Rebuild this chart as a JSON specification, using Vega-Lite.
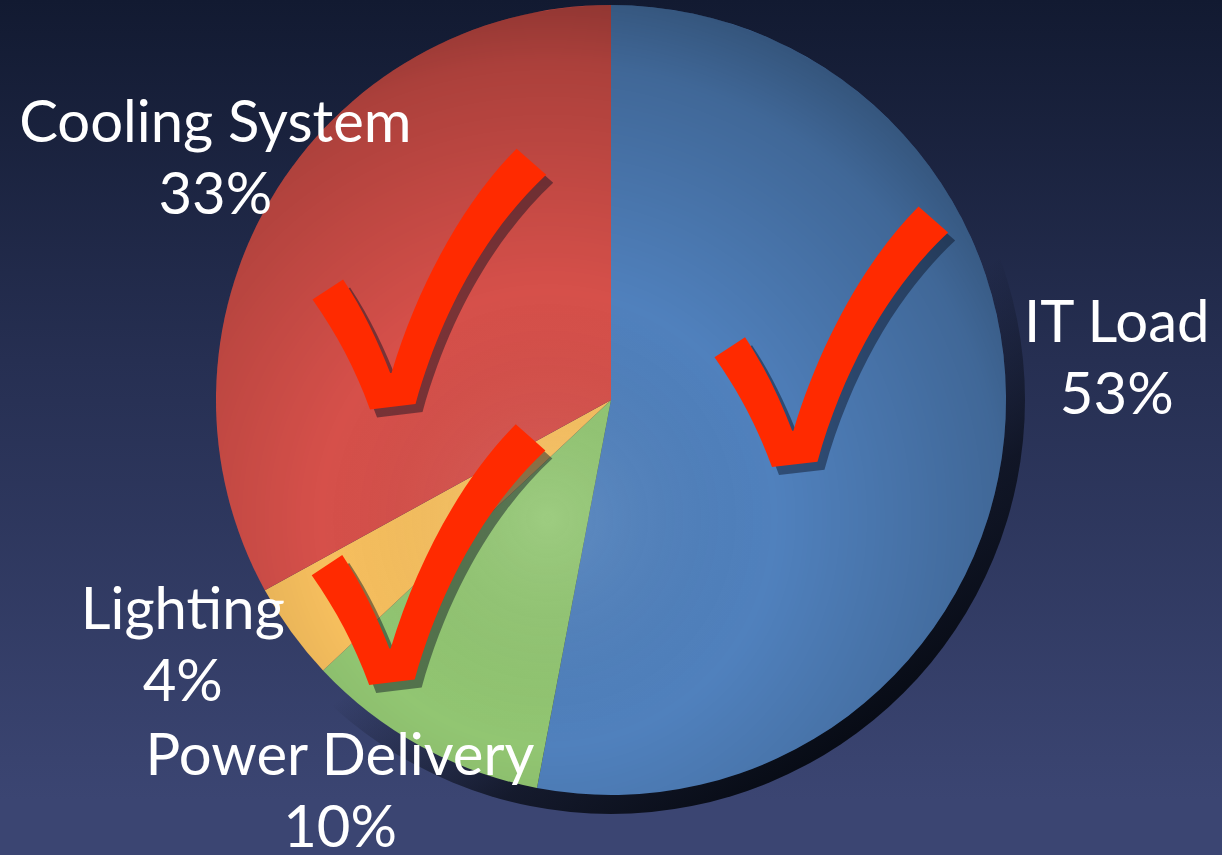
{
  "$schema": "https://vega.github.io/schema/vega-lite/v6.json",
  "width": 1222,
  "height": 800,
  "autosize": {"type": "none"},
  "padding": {"left": 0, "top": 0, "right": 0, "bottom": 55},
  "background": "#3b4572",
  "config": {
    "view": {"stroke": null},
    "text": {"font": "Lato", "color": "white"}
  },
  "data": {
    "values": [
      {"category": "IT Load", "value": 53, "order": 1, "label": ["IT Load", "53%"]},
      {"category": "Power Delivery", "value": 10, "order": 2, "label": ["Power Delivery", "10%"]},
      {"category": "Lighting", "value": 4, "order": 3, "label": ["Lighting", "4%"]},
      {"category": "Cooling System", "value": 33, "order": 4, "label": ["Cooling System", "33%"]}
    ]
  },
  "encoding": {
    "theta": {"field": "value", "type": "quantitative", "stack": true},
    "order": {"field": "order", "type": "quantitative"}
  },
  "layer": [
    {
      "data": {"values": [{"k": 1}]},
      "mark": {"type": "rect", "x": 0, "x2": {"expr": "width"}, "y": 0, "y2": {"expr": "height"},
        "fill": {"gradient": "linear", "x1": 0, "y1": 0, "x2": 0, "y2": 1,
          "stops": [{"offset": 0, "color": "#121a31"}, {"offset": 0.45, "color": "#262f52"}, {"offset": 1, "color": "#3b4572"}]}},
      "encoding": {"theta": null, "order": null}
    },
    {
      "data": {"values": [{"k": 1}]},
      "mark": {"type": "arc", "radius": 414, "theta": 0, "theta2": 6.2832,
        "fill": {"gradient": "linear", "x1": 0.25, "y1": 0.25, "x2": 0.72, "y2": 0.95,
          "stops": [{"offset": 0, "color": "rgba(8,12,22,0)"}, {"offset": 0.55, "color": "rgba(8,12,22,0)"}, {"offset": 0.8, "color": "rgba(8,12,22,0.75)"}, {"offset": 1, "color": "rgba(8,12,22,1)"}]}},
      "encoding": {"theta": null, "order": null}
    },
    {
      "mark": {"type": "arc", "radius": 395},
      "encoding": {
        "color": {"field": "category", "type": "nominal", "legend": null,
          "scale": {"domain": ["IT Load", "Power Delivery", "Lighting", "Cooling System"],
                    "range": ["#5081bd", "#92c672", "#f7bf5e", "#d6504a"]}}
      }
    },
    {
      "data": {"values": [{"k": 1}]},
      "mark": {"type": "arc", "radius": 395, "theta": 0, "theta2": 6.2832,
        "fill": {"gradient": "radial", "x1": 0.42, "y1": 0.65, "x2": 0.42, "y2": 0.65, "r1": 0, "r2": 0.72,
          "stops": [{"offset": 0, "color": "rgba(255,255,255,0.1)"}, {"offset": 0.4, "color": "rgba(0,0,0,0)"}, {"offset": 0.8, "color": "rgba(0,0,0,0.2)"}, {"offset": 1, "color": "rgba(0,0,0,0.42)"}]}},
      "encoding": {"theta": null, "order": null}
    },
    {
      "mark": {"type": "text", "radius": 230, "fontSize": 325, "fontWeight": "bold", "font": "Noto Sans CJK JP", "color": "#0a1020", "opacity": 0.45, "align": "center", "baseline": "middle", "dx": -3, "dy": -52},
      "encoding": {"text": {"condition": {"test": "datum.category === 'IT Load'", "value": "✓"}, "value": ""}}
    },
    {
      "mark": {"type": "text", "radius": 230, "fontSize": 325, "fontWeight": "bold", "font": "Noto Sans CJK JP", "color": "#ff2a00", "align": "center", "baseline": "middle", "dx": -10, "dy": -60},
      "encoding": {"text": {"condition": {"test": "datum.category === 'IT Load'", "value": "✓"}, "value": ""}}
    },
    {
      "mark": {"type": "text", "radius": 230, "fontSize": 325, "fontWeight": "bold", "font": "Noto Sans CJK JP", "color": "#0a1020", "opacity": 0.45, "align": "center", "baseline": "middle", "dx": 22, "dy": 29},
      "encoding": {"text": {"condition": {"test": "datum.category === 'Cooling System'", "value": "✓"}, "value": ""}}
    },
    {
      "mark": {"type": "text", "radius": 230, "fontSize": 325, "fontWeight": "bold", "font": "Noto Sans CJK JP", "color": "#ff2a00", "align": "center", "baseline": "middle", "dx": 15, "dy": 21},
      "encoding": {"text": {"condition": {"test": "datum.category === 'Cooling System'", "value": "✓"}, "value": ""}}
    },
    {
      "mark": {"type": "text", "radius": 230, "fontSize": 325, "fontWeight": "bold", "font": "Noto Sans CJK JP", "color": "#0a1020", "opacity": 0.45, "align": "center", "baseline": "middle", "dx": -66, "dy": -14},
      "encoding": {"text": {"condition": {"test": "datum.category === 'Power Delivery'", "value": "✓"}, "value": ""}}
    },
    {
      "mark": {"type": "text", "radius": 230, "fontSize": 325, "fontWeight": "bold", "font": "Noto Sans CJK JP", "color": "#ff2a00", "align": "center", "baseline": "middle", "dx": -73, "dy": -22},
      "encoding": {"text": {"condition": {"test": "datum.category === 'Power Delivery'", "value": "✓"}, "value": ""}}
    },
    {
      "mark": {"type": "text", "radius": 506, "fontSize": 58, "lineHeight": 72, "align": "center", "baseline": "middle", "dx": 2, "dy": -123},
      "encoding": {"text": {"condition": {"test": "datum.category === 'IT Load'", "field": "label"}, "value": ""}}
    },
    {
      "mark": {"type": "text", "radius": 462, "fontSize": 58, "lineHeight": 72, "align": "center", "baseline": "middle", "dx": 2, "dy": -40},
      "encoding": {"text": {"condition": {"test": "datum.category === 'Cooling System'", "field": "label"}, "value": ""}}
    },
    {
      "mark": {"type": "text", "radius": 470, "fontSize": 58, "lineHeight": 72, "align": "center", "baseline": "middle", "dx": -48, "dy": -64},
      "encoding": {"text": {"condition": {"test": "datum.category === 'Lighting'", "field": "label"}, "value": ""}}
    },
    {
      "mark": {"type": "text", "radius": 440, "fontSize": 58, "lineHeight": 72, "align": "center", "baseline": "middle", "dx": -59, "dy": -28},
      "encoding": {"text": {"condition": {"test": "datum.category === 'Power Delivery'", "field": "label"}, "value": ""}}
    }
  ]
}
